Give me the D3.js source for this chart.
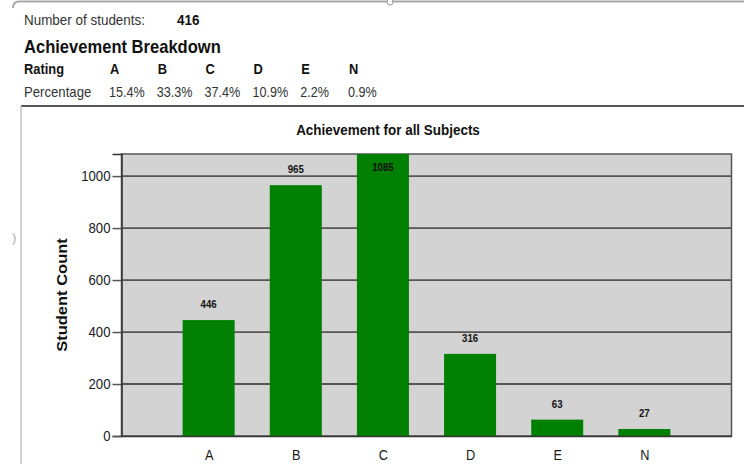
<!DOCTYPE html>
<html>
<head>
<meta charset="utf-8">
<script src="https://cdn.jsdelivr.net/npm/d3@7"></script>
<style>
	body { margin: 0; background: #fff; }
	text { font-family: "Liberation Sans", Arial, sans-serif; }
</style>
</head>
<body>
<div id="chart-area"></div>
<script>

// data
const ratings = ["A", "B", "C", "D", "E", "N"];
const counts = [446, 965, 1085, 316, 63, 27];
const percentages = ["15.4%", "33.3%", "37.4%", "10.9%", "2.2%", "0.9%"];
const yTicks = [0, 200, 400, 600, 800, 1000];
const studentTotal = 416;

const width = 744;
const height = 464;
const plot = {left: 121.5, right: 731.5, top: 154, bottom: 436};

var svg = d3.select("#chart-area").append("svg")
	.attr("width", width)
	.attr("height", height);

// 文字稍微压扁一点（原图是窄字体）
function addText(str, x, y, size, sx, opt) {
	opt = opt || {};
	return svg.append("text")
		.attr("transform", `translate(${x},${y}) scale(${sx},1)`)
		.attr("text-anchor", opt.anchor || "start")
		.attr("fill", opt.fill || "#111")
		.style("font-size", size + "px")
		.style("font-weight", opt.bold ? "bold" : "normal")
		.text(str);
}

// 顶部的边框线和小圆点
svg.append("path")
	.attr("d", "M13,8 Q13,1.5 19,1.5 L744,1.5")
	.attr("fill", "none")
	.attr("stroke", "#a8a8a8")
	.attr("stroke-width", 2);
svg.append("circle")
	.attr("cx", 390)
	.attr("cy", 2)
	.attr("r", 3)
	.attr("fill", "#fff")
	.attr("stroke", "#999")
	.attr("stroke-width", 1);
addText(")", 12, 242, 13, 1, {fill: "#aaa"});

// 表头
addText("Number of students:", 24, 25, 14, 0.96, {fill: "#333"});
addText(studentTotal, 177, 25, 14, 0.96, {bold: true});
addText("Achievement Breakdown", 24, 53, 18, 0.92, {bold: true});

var col = d3.scalePoint()
	.domain(ratings)
	.range([110, 349]);

addText("Rating", 24, 74, 14, 0.92, {bold: true});
addText("Percentage", 24, 97, 14, 0.94, {fill: "#333"});

svg.selectAll(".rating")
	.data(ratings)
	.enter().append("text")
	.attr("class", "rating")
	.attr("transform", d => `translate(${col(d)},74) scale(0.92,1)`)
	.attr("fill", "#111")
	.style("font-size", "14px")
	.style("font-weight", "bold")
	.text(d => d);

svg.selectAll(".pct")
	.data(percentages)
	.enter().append("text")
	.attr("class", "pct")
	.attr("transform", (d, i) => `translate(${col(ratings[i]) - 1},97) scale(0.9,1)`)
	.attr("fill", "#333")
	.style("font-size", "14px")
	.text(d => d);

// 图表外框
svg.append("line")
	.attr("x1", 21).attr("y1", 106)
	.attr("x2", width).attr("y2", 106)
	.attr("stroke", "#555")
	.attr("stroke-width", 2);
svg.append("line")
	.attr("x1", 21).attr("y1", 106)
	.attr("x2", 21).attr("y2", height)
	.attr("stroke", "#c4c4c4")
	.attr("stroke-width", 1.5);

addText("Achievement for all Subjects", 388, 135, 14, 0.96, {bold: true, anchor: "middle"});

// 比例尺
var x = d3.scalePoint()
	.domain(ratings)
	.range([plot.left, plot.right])
	.padding(1);
var barWidth = 52;

var y = d3.scaleLinear()
	.domain([0, d3.max(counts)])
	.range([plot.bottom, plot.top]);

// 背景
svg.append("rect")
	.attr("x", plot.left)
	.attr("y", plot.top)
	.attr("width", plot.right - plot.left)
	.attr("height", plot.bottom - plot.top)
	.attr("fill", "#d3d3d3")
	.attr("stroke", "#555")
	.attr("stroke-width", 1.5);

// 网格线
svg.selectAll(".grid")
	.data(yTicks.filter(d => d > 0))
	.enter().append("line")
	.attr("class", "grid")
	.attr("x1", plot.left)
	.attr("x2", plot.right)
	.attr("y1", d => y(d))
	.attr("y2", d => y(d))
	.attr("stroke", "#555")
	.attr("stroke-width", 1.8);

// 条形图
svg.selectAll(".bar")
	.data(counts)
	.enter().append("rect")
	.attr("class", "bar")
	.attr("x", (d, i) => x(ratings[i]) - barWidth / 2)
	.attr("y", d => y(d))
	.attr("width", barWidth)
	.attr("height", d => plot.bottom - y(d))
	.attr("fill", "#008000");

// 数值标签（最高的那个放在柱子里面）
svg.selectAll(".val")
	.data(counts)
	.enter().append("text")
	.attr("class", "val")
	.attr("transform", (d, i) => `translate(${x(ratings[i])},${Math.max(y(d) - 12, plot.top + 17)}) scale(0.88,1)`)
	.attr("text-anchor", "middle")
	.attr("fill", "#111")
	.style("font-size", "11px")
	.style("font-weight", "bold")
	.text(d => d);

// y轴
var yAxis = d3.axisLeft(y)
	.tickValues(yTicks)
	.tickFormat(d3.format("d"))
	.tickSize(9)
	.tickPadding(2);
var gy = svg.append("g")
	.attr("transform", `translate(${plot.left},0)`)
	.call(yAxis);
gy.select(".domain").attr("stroke", "#333").attr("stroke-width", 1.5);
gy.selectAll(".tick line").attr("stroke", "#555").attr("stroke-width", 1.5);
gy.selectAll(".tick text")
	.attr("x", -11 / 0.88)
	.attr("transform", "scale(0.88,1)")
	.attr("fill", "#1a1a1a")
	.style("font-size", "15px")
	.style("font-family", "'Liberation Sans', Arial, sans-serif");

// x轴
var gx = svg.append("g")
	.attr("transform", `translate(0,${plot.bottom})`)
	.call(d3.axisBottom(x).tickSize(0).tickPadding(13));
gx.select(".domain").attr("stroke", "#333").attr("stroke-width", 1.5);
gx.selectAll(".tick text")
	.attr("transform", "scale(0.85,1)")
	.attr("fill", "#1a1a1a")
	.style("font-size", "15px")
	.style("font-family", "'Liberation Sans', Arial, sans-serif");

svg.append("text")
	.attr("transform", `translate(67,295) rotate(-90) scale(1,0.88)`)
	.attr("text-anchor", "middle")
	.attr("fill", "#111")
	.style("font-size", "16.5px")
	.style("font-weight", "bold")
	.text("Student Count");

</script>
</body>
</html>
